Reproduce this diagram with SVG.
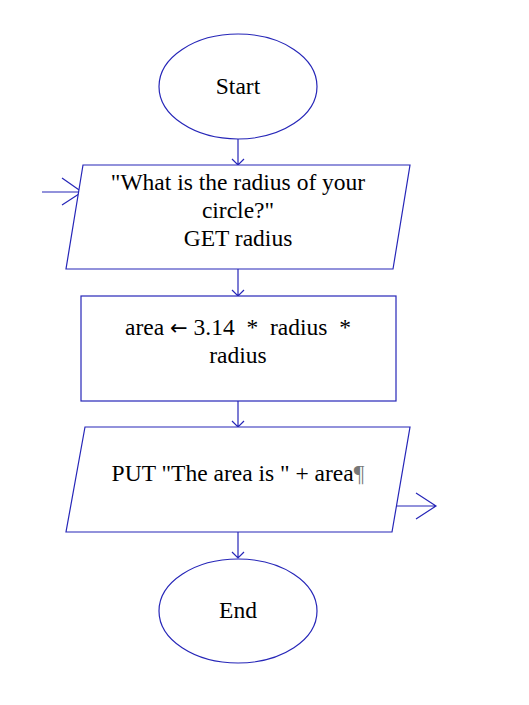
<svg xmlns="http://www.w3.org/2000/svg" width="529" height="705" viewBox="0 0 529 705">
<style>
.s{fill:#ffffff;stroke:#2626b8;stroke-width:1.2}
.c{fill:none;stroke:#2626b8;stroke-width:1.2}
.t{font-family:"Liberation Serif","Times New Roman",serif;font-size:23.5px;fill:#000;text-anchor:middle;white-space:pre}
.a{font-family:"DejaVu Sans",sans-serif;font-size:21px}
</style>
<rect width="529" height="705" fill="#ffffff"/>
<g id="connectors">
<path class="c" d="M238,139 V165 M232,159 L238,165 L244,159"/>
<path class="c" d="M238,269 V296 M232,290 L238,296 L244,290"/>
<path class="c" d="M238,401 V427 M232,421 L238,427 L244,421"/>
<path class="c" d="M238,532 V558 M232,552 L238,558 L244,552"/>
<path class="c" d="M42,192 H82 M62,178 L82,192 L62,205"/>
<path class="c" d="M397,506 H436 M416,493 L436,506 L416,519"/>
</g>
<g id="start">
<ellipse class="s" cx="238" cy="86.5" rx="79" ry="52.5"/>
<text class="t" x="238" y="94">Start</text>
</g>
<g id="input">
<polygon class="s" points="83,165 410,165 393,269 66,269"/>
<text class="t" x="238" y="190">"What is the radius of your</text>
<text class="t" x="238" y="218">circle?"</text>
<text class="t" x="238" y="246">GET radius</text>
</g>
<g id="process">
<rect class="s" x="81" y="296" width="315" height="105"/>
<text class="t" x="238" y="335" xml:space="preserve">area <tspan class="a">←</tspan> 3.14  *  radius  *</text>
<text class="t" x="238" y="363">radius</text>
</g>
<g id="output">
<polygon class="s" points="85,427 410,427 392,532 66,532"/>
<text class="t" x="238" y="481">PUT "The area is " + area<tspan fill="#777777">¶</tspan></text>
</g>
<g id="end">
<ellipse class="s" cx="238" cy="611" rx="79" ry="52"/>
<text class="t" x="238" y="618">End</text>
</g>
</svg>
